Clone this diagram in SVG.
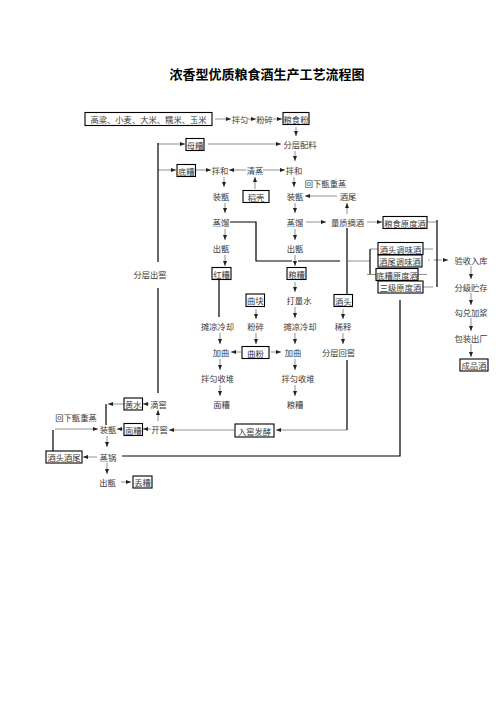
<svg xmlns="http://www.w3.org/2000/svg" width="496" height="702" viewBox="0 0 496 702">
<defs>
<marker id="ah" markerWidth="5" markerHeight="4" refX="5" refY="2" orient="auto" markerUnits="userSpaceOnUse"><path d="M0,0 L5,2 L0,4 Z" fill="#222"/></marker>
<style>
text{font-family:"Noto Sans CJK SC","Noto Sans",sans-serif;font-size:8.3px;fill:#3a3a3a;text-anchor:middle;dominant-baseline:central}
.title{font-size:13px;font-weight:bold;fill:#000}
rect{fill:#fff;stroke:#000;stroke-width:1.1}
.t{stroke:#444;stroke-width:0.6;fill:none}
.a{stroke:#444;stroke-width:0.6;fill:none;marker-end:url(#ah)}
.k{stroke:#000;stroke-width:1.2;fill:none}
</style>
</defs>
<rect x="0" y="0" width="496" height="702" style="fill:#fff;stroke:none"/>
<text class="title" x="267" y="73">浓香型优质粮食酒生产工艺流程图</text>

<g id="connectors">
<line class="a" x1="215" y1="119" x2="231" y2="119"/>
<line class="a" x1="248" y1="119" x2="256" y2="119"/>
<line class="a" x1="273" y1="119" x2="282" y2="119"/>
<line class="a" x1="296" y1="127" x2="296" y2="136"/>
<line class="a" x1="295" y1="151" x2="295" y2="161"/>
<line class="a" x1="208" y1="144" x2="281" y2="144"/>
<line class="a" x1="158" y1="144" x2="185" y2="144"/>
<line class="a" x1="158" y1="170" x2="176" y2="170"/>
<line class="a" x1="196" y1="170" x2="211" y2="170"/>
<line class="a" x1="246" y1="170" x2="229" y2="170"/>
<line class="a" x1="263" y1="170" x2="285" y2="170"/>
<line class="a" x1="224" y1="177" x2="224" y2="187"/>
<line class="a" x1="255" y1="189" x2="255" y2="177"/>
<line class="a" x1="294" y1="177" x2="294" y2="187"/>
<line class="a" x1="225" y1="203" x2="225" y2="213"/>
<line class="a" x1="295" y1="203" x2="295" y2="213"/>
<line class="a" x1="337" y1="196" x2="305" y2="196"/>
<line class="a" x1="347" y1="214" x2="347" y2="203"/>
<line class="a" x1="225" y1="229" x2="225" y2="240"/>
<line class="a" x1="295" y1="229" x2="295" y2="240"/>
<line class="a" x1="306" y1="222" x2="326" y2="222"/>
<line class="a" x1="367" y1="222" x2="382" y2="222"/>
<line class="a" x1="225" y1="255" x2="225" y2="266"/>
<line class="a" x1="295" y1="255" x2="295" y2="266"/>
<line class="a" x1="295" y1="282" x2="295" y2="292"/>
<line class="a" x1="256" y1="309" x2="256" y2="319"/>
<line class="a" x1="295" y1="307" x2="295" y2="318"/>
<line class="a" x1="343" y1="309" x2="343" y2="319"/>
<line class="a" x1="220" y1="333" x2="220" y2="344"/>
<line class="a" x1="256" y1="333" x2="256" y2="344"/>
<line class="a" x1="295" y1="333" x2="295" y2="344"/>
<line class="a" x1="343" y1="333" x2="343" y2="344"/>
<line class="a" x1="241" y1="352" x2="231" y2="352"/>
<line class="a" x1="271" y1="352" x2="281" y2="352"/>
<line class="a" x1="220" y1="359" x2="220" y2="370"/>
<line class="a" x1="295" y1="359" x2="295" y2="370"/>
<line class="a" x1="220" y1="385" x2="220" y2="396"/>
<line class="a" x1="295" y1="385" x2="295" y2="396"/>
<line class="a" x1="471" y1="266" x2="471" y2="279"/>
<line class="a" x1="471" y1="293" x2="471" y2="305"/>
<line class="a" x1="471" y1="318" x2="471" y2="331"/>
<line class="a" x1="471" y1="344" x2="471" y2="357"/>
<line class="a" x1="428" y1="260" x2="448" y2="260" stroke-dasharray="1.5,4,7,0"/>
<line class="a" x1="149" y1="404" x2="143" y2="404"/>
<line class="a" x1="124" y1="404" x2="108" y2="404"/>
<line class="a" x1="158" y1="421" x2="158" y2="410"/>
<line class="a" x1="151" y1="429" x2="143" y2="429"/>
<line class="a" x1="123" y1="429" x2="117" y2="429"/>
<line class="a" x1="234" y1="430" x2="169" y2="430"/>
<line class="a" x1="55" y1="429" x2="98" y2="429"/>
<line class="a" x1="107" y1="436" x2="107" y2="447"/>
<line class="a" x1="97" y1="457" x2="83" y2="457"/>
<line class="a" x1="107" y1="463" x2="107" y2="474"/>
<line class="a" x1="121" y1="482" x2="131" y2="482"/>
<line class="a" x1="347" y1="430" x2="276" y2="430"/>
<polyline class="k" points="158,143 158,262"/>
<polyline class="k" points="158,288 158,393"/>
<polyline class="k" points="230,222 256,222 256,261 292,261"/>
<polyline class="k" points="298,261 340,261"/>
<polyline class="k" points="347,228 347,294"/>
<line class="t" x1="348" y1="261" x2="370" y2="261"/>
<polyline class="k" points="370,249 370,274"/>
<line class="t" x1="370" y1="249" x2="378" y2="249"/>
<line class="t" x1="367" y1="274.5" x2="376" y2="274.5"/>
<polyline class="k" points="219,279 219,317"/>
<polyline class="k" points="437,220 437,287"/>
<line class="t" x1="427" y1="222" x2="437" y2="222"/>
<line class="t" x1="423" y1="249" x2="433" y2="249"/>
<line class="t" x1="418" y1="274.5" x2="427" y2="274.5"/>
<line class="t" x1="423" y1="287" x2="433" y2="287"/>
<polyline class="k" points="400,300 400,456 122,456"/>
<polyline class="k" points="106,404 106,425"/>
<polyline class="k" points="53,430 53,452"/>
<polyline class="k" points="347,360 347,430"/>
</g>

<g id="n-raw"><rect x="85" y="112.5" width="127" height="13"/><text x="148.5" y="119">高粱、小麦、大米、糯米、玉米</text></g>
<g id="n-banyun"><text x="240" y="119">拌匀</text></g>
<g id="n-fensui"><text x="264.5" y="119">粉碎</text></g>
<g id="n-lsf"><rect x="283" y="112.5" width="26" height="12"/><text x="296" y="118.5">粮食粉</text></g>
<g id="n-fcpl"><text x="300" y="144">分层配料</text></g>
<g id="n-muzao"><rect x="186" y="138.5" width="18" height="12"/><text x="195" y="144.5">母糟</text></g>
<g id="n-dizao"><rect x="177" y="164.5" width="18.5" height="12"/><text x="186.2" y="170.5">底糟</text></g>
<g id="n-banhe1"><text x="220" y="170">拌和</text></g>
<g id="n-qingzheng"><text x="255" y="170">清蒸</text></g>
<g id="n-banhe2"><text x="294" y="170">拌和</text></g>
<g id="n-hxczz1"><text x="325.5" y="183">回下甑重蒸</text></g>
<g id="n-zz1"><text x="221" y="196">装甑</text></g>
<g id="n-daoke"><rect x="243" y="190.5" width="26" height="12"/><text x="256" y="196.5">稻壳</text></g>
<g id="n-zz2"><text x="295" y="196">装甑</text></g>
<g id="n-jiuwei"><text x="348" y="196">酒尾</text></g>
<g id="n-zl1"><text x="221" y="222">蒸馏</text></g>
<g id="n-zl2"><text x="295" y="222">蒸馏</text></g>
<g id="n-lzzj"><text x="347.5" y="222">量质摘酒</text></g>
<g id="n-lsydj"><rect x="383" y="216.5" width="44" height="12"/><text x="405" y="222.5">粮食原度酒</text></g>
<g id="n-cz1"><text x="221" y="248">出甑</text></g>
<g id="n-cz2"><text x="295" y="248">出甑</text></g>
<g id="n-jttwj"><rect x="378" y="242.5" width="45" height="12"/><text x="400.5" y="248.5">酒头调味酒</text></g>
<g id="n-jwtwj"><rect x="378" y="255" width="44" height="12"/><text x="400" y="261">酒尾调味酒</text></g>
<g id="n-dzydj"><rect x="376" y="268.5" width="42" height="12"/><text x="397" y="274.5">底糟原度酒</text></g>
<g id="n-sjydj"><rect x="378" y="281" width="45" height="12"/><text x="400.5" y="287">三级原度酒</text></g>
<g id="n-ysrk"><text x="471" y="260">验收入库</text></g>
<g id="n-fccj"><text x="150" y="274">分层出窖</text></g>
<g id="n-hongzao"><rect x="212" y="267.5" width="19" height="12"/><text x="221.5" y="273.5">红糟</text></g>
<g id="n-liangzao"><rect x="287" y="267.5" width="19" height="12"/><text x="296.5" y="273.5">粮糟</text></g>
<g id="n-fjzc"><text x="471" y="287">分级贮存</text></g>
<g id="n-qukuai"><rect x="246" y="294" width="18.5" height="12.5"/><text x="255.2" y="300.2">曲块</text></g>
<g id="n-dls"><text x="299" y="300">打量水</text></g>
<g id="n-jiutou"><rect x="334" y="294.5" width="18.5" height="12"/><text x="343.2" y="300.5">酒头</text></g>
<g id="n-gdjj"><text x="471" y="312">勾兑加浆</text></g>
<g id="n-tllq1"><text x="217.5" y="326">摊凉冷却</text></g>
<g id="n-fensui2"><text x="255.5" y="326">粉碎</text></g>
<g id="n-tllq2"><text x="300" y="326">摊凉冷却</text></g>
<g id="n-xishi"><text x="343" y="326">稀释</text></g>
<g id="n-bzcc"><text x="471" y="338">包装出厂</text></g>
<g id="n-jq1"><text x="221" y="352">加曲</text></g>
<g id="n-qufen"><rect x="242" y="346.5" width="27" height="12"/><text x="255.5" y="352.5">曲粉</text></g>
<g id="n-jq2"><text x="293" y="352">加曲</text></g>
<g id="n-fchj"><text x="338.5" y="352">分层回窖</text></g>
<g id="n-cpj"><rect x="460" y="359" width="28" height="12"/><text x="474" y="365">成品酒</text></g>
<g id="n-bysd1"><text x="217.5" y="378">拌匀收堆</text></g>
<g id="n-bysd2"><text x="298" y="378">拌匀收堆</text></g>
<g id="n-huangshui"><rect x="124" y="398" width="18.5" height="12"/><text x="133.2" y="404">黄水</text></g>
<g id="n-dijiao"><text x="158.5" y="404">滴窖</text></g>
<g id="n-mianzao1"><text x="221.5" y="404">面糟</text></g>
<g id="n-liangzao2"><text x="295" y="404">粮糟</text></g>
<g id="n-hxczz2"><text x="76" y="417">回下甑重蒸</text></g>
<g id="n-zz3"><text x="108" y="429">装甑</text></g>
<g id="n-mianzao2"><rect x="124" y="423.5" width="18.5" height="12"/><text x="133.2" y="429.5">面糟</text></g>
<g id="n-kaijiao"><text x="159.5" y="429">开窖</text></g>
<g id="n-rjfj"><rect x="235" y="424" width="39" height="13"/><text x="254.5" y="430.5">入窖发酵</text></g>
<g id="n-jtjw"><rect x="46" y="451" width="36" height="12"/><text x="64" y="457">酒头酒尾</text></g>
<g id="n-zhengguo"><text x="108" y="457">蒸锅</text></g>
<g id="n-cz3"><text x="107.5" y="482">出甑</text></g>
<g id="n-diuzao"><rect x="133" y="476" width="19" height="12"/><text x="142.5" y="482">丢糟</text></g>
</svg>
